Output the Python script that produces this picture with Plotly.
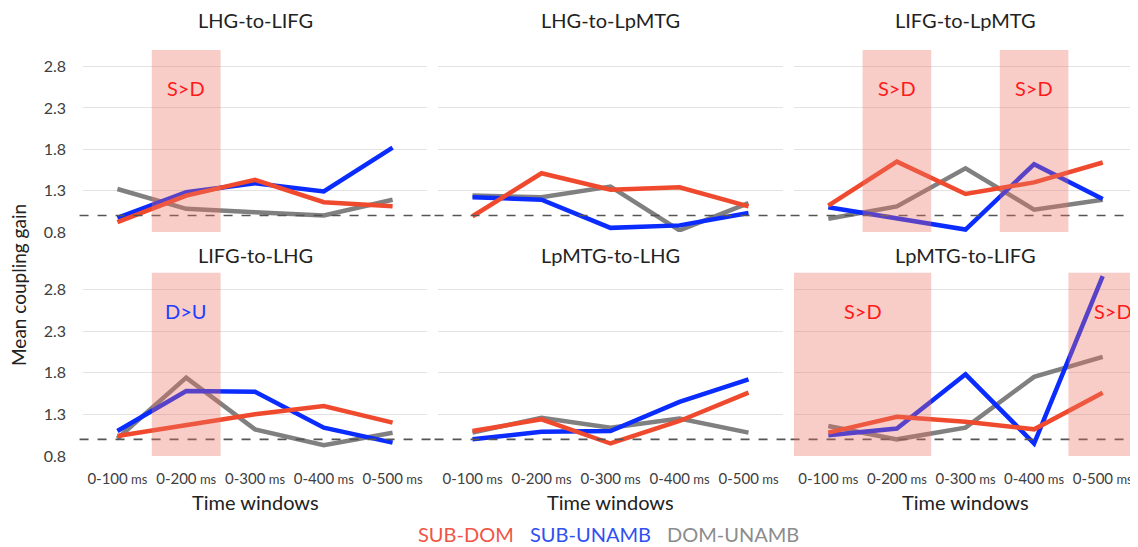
import plotly.graph_objects as go
from plotly.subplots import make_subplots

categories = ["0-100 ms", "0-200 ms", "0-300 ms", "0-400 ms", "0-500 ms"]
tick_labels = ["0-100", "0-200", "0-300", "0-400", "0-500"]
panel_titles = ["LHG-to-LIFG", "LHG-to-LpMTG", "LIFG-to-LpMTG",
                "LIFG-to-LHG", "LpMTG-to-LHG", "LpMTG-to-LIFG"]
series_names = ["DOM-UNAMB", "SUB-UNAMB", "SUB-DOM"]

# values per panel: gray (DOM-UNAMB), blue (SUB-UNAMB), red (SUB-DOM)
dom_unamb = [
    [1.32, 1.08, 1.04, 1.00, 1.19],
    [1.24, 1.22, 1.35, 0.82, 1.15],
    [0.96, 1.11, 1.57, 1.07, 1.19],
    [1.01, 1.74, 1.12, 0.93, 1.08],
    [1.08, 1.26, 1.14, 1.25, 1.08],
    [1.16, 1.00, 1.14, 1.75, 1.99],
]
sub_unamb = [
    [0.97, 1.28, 1.39, 1.29, 1.82],
    [1.22, 1.19, 0.85, 0.88, 1.03],
    [1.10, 0.96, 0.83, 1.62, 1.20],
    [1.10, 1.58, 1.57, 1.14, 0.96],
    [1.00, 1.09, 1.10, 1.45, 1.72],
    [1.05, 1.13, 1.78, 0.95, 2.96],
]
sub_dom = [
    [0.92, 1.24, 1.43, 1.16, 1.11],
    [0.99, 1.51, 1.31, 1.34, 1.11],
    [1.12, 1.65, 1.26, 1.40, 1.64],
    [1.04, 1.17, 1.30, 1.40, 1.20],
    [1.10, 1.24, 0.95, 1.22, 1.56],
    [1.08, 1.27, 1.21, 1.12, 1.56],
]
y_ticks = [0.8, 1.3, 1.8, 2.3, 2.8]
baseline = 1.0

# significance bands: (panel index, first category index, last category index, label, label colour, label x)
bands = [
    (0, 1, 1, "S>D", "#ff1a1a", 1.0),
    (2, 1, 1, "S>D", "#ff1a1a", 1.0),
    (2, 3, 3, "S>D", "#ff1a1a", 3.0),
    (3, 1, 1, "D>U", "#1f3cff", 1.0),
    (5, 0, 1, "S>D", "#ff1a1a", 0.5),
    (5, 4, 4, "S>D", "#ff1a1a", 4.15),
]

colors = {"DOM-UNAMB": "#808080", "SUB-UNAMB": "#0a2cff", "SUB-DOM": "#f04a2e"}
FONT = "Lato"

fig = make_subplots(rows=2, cols=3)

# the page body adds an 8px offset; figure sized so that screen layout matches
OFF = 8
W, H = 1130, 539
ml, mr, mt, mb = 75, 1, 42, 91
pw, ph = W - ml - mr, H - mt - mb

def px_x(xs):
    return (xs - OFF - ml) / pw

def px_y(ys):
    return (H - mb - (ys - OFF)) / ph

col_dom = [(px_x(83), px_x(427)), (px_x(438), px_x(783)), (px_x(794), px_x(1137))]
row_dom = [(px_y(232), 1.0), (0.0, px_y(272.7))]

for p in range(6):
    r, c = p // 3 + 1, p % 3 + 1
    for name, data in zip(series_names, [dom_unamb, sub_unamb, sub_dom]):
        fig.add_trace(go.Scatter(
            x=list(range(len(categories))), y=data[p], mode="lines",
            name=name, showlegend=False,
            line=dict(color=colors[name], width=4.5),
            hovertemplate=name + ": %{y}<extra></extra>"), row=r, col=c)

tickhtml = [t + "<span style='font-size:13px'> ms</span>" for t in tick_labels]

for p in range(6):
    r, c = p // 3, p % 3
    idx = "" if p == 0 else str(p + 1)
    fig.layout["xaxis" + idx].update(
        domain=[max(0, col_dom[c][0]), min(1, col_dom[c][1])],
        range=[-0.5, 4.5], automargin=False,
        tickmode="array", tickvals=list(range(len(categories))),
        ticktext=tickhtml, showticklabels=(r == 1), ticklabelstandoff=12,
        showgrid=False, zeroline=False, showline=False, ticks="",
        tickfont=dict(family=FONT, size=15, color="#404040"))
    fig.layout["yaxis" + idx].update(
        domain=list(row_dom[r]), range=[0.8, 3.0], automargin=False,
        tickmode="array", tickvals=y_ticks,
        ticktext=[f"{v:.1f}" for v in y_ticks],
        showticklabels=(c == 0), ticklabelstandoff=16,
        showgrid=True, gridcolor="#e3e3e3", gridwidth=1,
        zeroline=False, showline=False, ticks="",
        tickfont=dict(family=FONT, size=16, color="#404040"))
    xr = "x" + idx
    yr = "y" + idx
    # baseline dashed line
    fig.add_shape(type="line", xref=xr + " domain", yref=yr,
                  x0=-0.01, x1=1.02, y0=baseline, y1=baseline,
                  line=dict(color="#555555", width=1.6, dash="dash"),
                  layer="above")
    # panel title
    xc = (col_dom[c][0] + col_dom[c][1]) / 2
    fig.add_annotation(text=panel_titles[p], x=xc, y=px_y(20) if r == 0 else px_y(255),
                       xref="paper", yref="paper", showarrow=False,
                       xanchor="center", yanchor="middle",
                       font=dict(family=FONT, size=20, color="#222222"))
    if r == 1:
        fig.add_annotation(text="Time windows", x=xc, y=px_y(502),
                           xref="paper", yref="paper", showarrow=False,
                           xanchor="center", yanchor="middle",
                           font=dict(family=FONT, size=20, color="#222222"))

for (p, a, b, label, lc, lx) in bands:
    idx = "" if p == 0 else str(p + 1)
    xr = "x" + idx
    yr = "y" + idx
    fig.add_shape(type="rect", xref=xr, yref=yr + " domain",
                  x0=a - 0.5, x1=b + 0.5, y0=0, y1=1,
                  fillcolor="rgba(235,112,98,0.35)", line=dict(width=0),
                  layer="above")
    fig.add_annotation(text=label, x=lx, y=2.54, xref=xr, yref=yr,
                       showarrow=False, xanchor="center", yanchor="middle",
                       font=dict(family=FONT, size=20, color=lc))

fig.add_annotation(text="Mean coupling gain", x=px_x(18), y=px_y(285),
                   xref="paper", yref="paper", showarrow=False, textangle=-90,
                   xanchor="center", yanchor="middle",
                   font=dict(family=FONT, size=19, color="#222222"))

legend_items = [("SUB-DOM", "#f05545", 466), ("SUB-UNAMB", "#3050f0", 590),
                ("DOM-UNAMB", "#8c8c8c", 733)]
for text, col, xp in legend_items:
    fig.add_annotation(text=text, x=px_x(xp), y=px_y(534), xref="paper", yref="paper",
                       showarrow=False, xanchor="center", yanchor="middle",
                       font=dict(family=FONT, size=20, color=col))

fig.update_layout(width=W, height=H, margin=dict(l=ml, r=mr, t=mt, b=mb),
                  plot_bgcolor="white", paper_bgcolor="white",
                  font=dict(family=FONT))

fig.write_html("out.html")
